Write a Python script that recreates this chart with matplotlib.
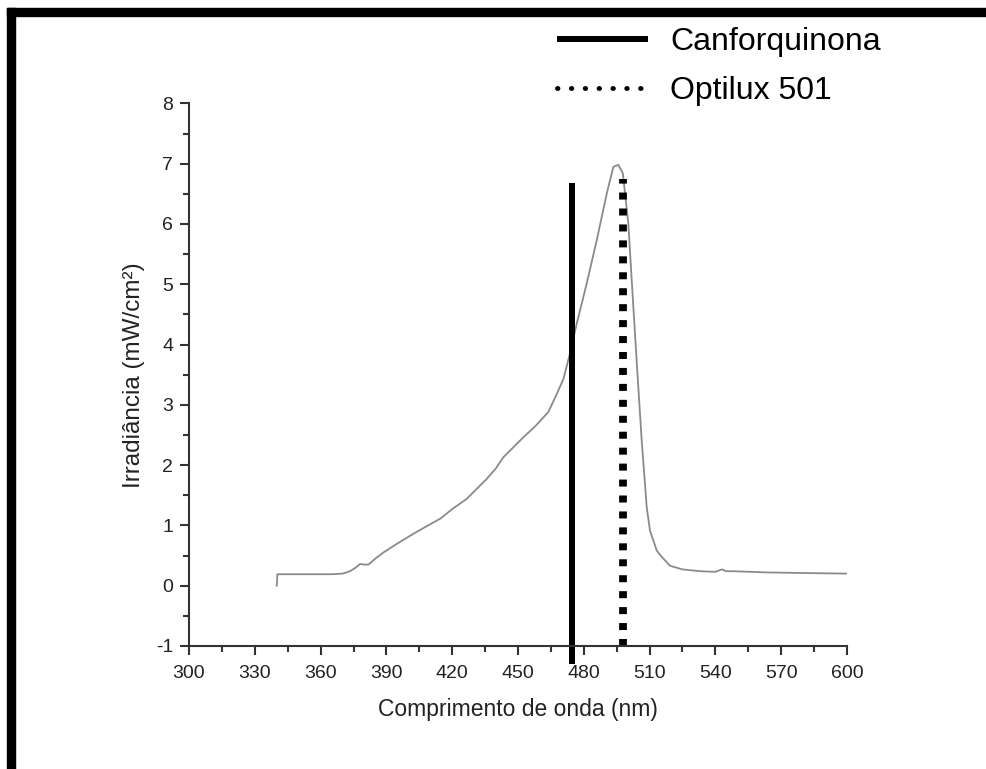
import matplotlib
matplotlib.use("Agg")
import matplotlib.pyplot as plt
from matplotlib.lines import Line2D
from matplotlib.patches import Rectangle
from matplotlib.ticker import MultipleLocator

plt.rcParams['font.family'] = ['Liberation Sans', 'DejaVu Sans']
plt.rcParams['axes.unicode_minus'] = False

# Espectro de emissão (Optilux 501)
comprimento = [340, 340.3, 345, 355, 365, 370, 373.4, 376, 378, 380, 381.8, 385,
               388.6, 395, 402.3, 408, 414.5, 420, 426.6, 431, 435.7, 440, 443.3,
               448, 452.4, 458, 463.8, 467.7, 470.7, 473.7, 476.8, 481.3, 485.9,
               490.5, 493.5, 495.8, 497.8, 500.3, 502.6, 504.5, 506.4, 508.7,
               510.2, 513.3, 515, 519.3, 525, 533, 540, 543, 545, 548, 563.4,
               580, 600]
irradiancia = [0.0, 0.19, 0.19, 0.19, 0.19, 0.20, 0.24, 0.30, 0.36, 0.35, 0.35,
               0.45, 0.55, 0.70, 0.86, 0.98, 1.11, 1.27, 1.44, 1.60, 1.77, 1.95,
               2.13, 2.30, 2.46, 2.65, 2.88, 3.18, 3.43, 3.85, 4.35, 5.01, 5.73,
               6.51, 6.95, 6.98, 6.84, 6.01, 4.62, 3.50, 2.41, 1.30, 0.91, 0.58,
               0.50, 0.33, 0.27, 0.24, 0.23, 0.27, 0.24, 0.24, 0.22, 0.21, 0.20]

# Picos de absorção / emissão (linhas verticais)
pico_canforquinona = 474.5
topo_canforquinona = 6.68
base_canforquinona = -1.3
pico_optilux = 497.9
topo_optilux = 6.74

cor_texto = '#222222'

fig = plt.figure(figsize=(9.86, 7.69), dpi=100)
ax = fig.add_axes([0.1917, 0.16, 0.6673, 0.7055])

ax.plot(comprimento, irradiancia, color='#8a8a8a', lw=1.3)

ax.plot([pico_canforquinona, pico_canforquinona],
        [base_canforquinona, topo_canforquinona],
        color='black', lw=4.3, solid_capstyle='butt', clip_on=False)
ax.plot([pico_optilux, pico_optilux], [-1, topo_optilux],
        color='black', lw=5.6, dash_capstyle='butt',
        linestyle=(0, (0.9, 1.15)), clip_on=False)

ax.set_xlim(300, 600)
ax.set_ylim(-1, 8)
ax.xaxis.set_major_locator(MultipleLocator(30))
ax.xaxis.set_minor_locator(MultipleLocator(15))
ax.yaxis.set_major_locator(MultipleLocator(1))
ax.yaxis.set_minor_locator(MultipleLocator(0.5))

for lado in ['top', 'right']:
    ax.spines[lado].set_visible(False)
for lado in ['left', 'bottom']:
    ax.spines[lado].set_linewidth(1.5)
    ax.spines[lado].set_color('#333333')

ax.tick_params(which='major', length=6.5, width=1.5, color='#333333',
               labelsize=14, labelcolor=cor_texto)
ax.tick_params(axis='x', which='major', pad=7)
ax.tick_params(axis='y', which='major', pad=5)
ax.tick_params(which='minor', length=4, width=1.5, color='#333333')

ax.set_xlabel('Comprimento de onda (nm)', fontsize=16.5, color=cor_texto, labelpad=12)
ax.set_ylabel('Irradiância (mW/cm²)', fontsize=17.5, color=cor_texto, labelpad=8)

# Legenda
handles = [Line2D([], [], color='black', lw=4.3, solid_capstyle='butt'),
           Line2D([], [], color='black', lw=3.5, linestyle=(0, (0.1, 2.75)),
                  dash_capstyle='round')]
fig.legend(handles, ['Canforquinona', 'Optilux 501'], loc='upper left',
           bbox_to_anchor=(0.565, 0.965), frameon=False, fontsize=23,
           handlelength=2.85, handletextpad=0.69, labelspacing=0.6,
           borderpad=0, borderaxespad=0)

# Moldura preta (topo e esquerda)
fig.add_artist(Rectangle((7 / 986, 1 - 16 / 769), 979 / 986, 8 / 769,
                         transform=fig.transFigure, color='black'))
fig.add_artist(Rectangle((7 / 986, 0), 8 / 986, 761 / 769,
                         transform=fig.transFigure, color='black'))

plt.savefig('out.png', dpi=100)
